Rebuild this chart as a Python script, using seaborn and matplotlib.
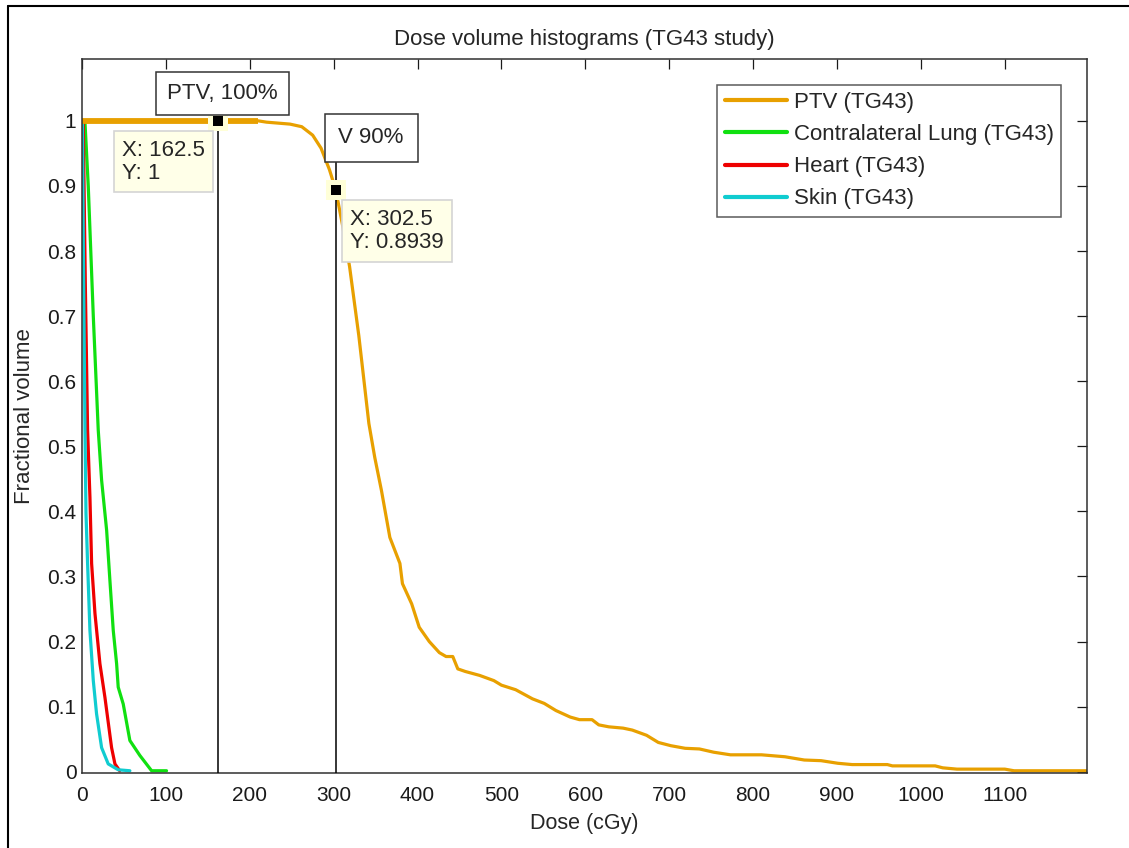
import numpy as np
import pandas as pd
import matplotlib
matplotlib.use('Agg')
import matplotlib.pyplot as plt
import seaborn as sns
from matplotlib.lines import Line2D

# ==========================================
# DATA
# ==========================================
ptv_dose = [0, 210, 220, 248, 262, 275, 285, 295, 302.5, 311, 319, 330, 342, 349,
            357, 367, 379, 382, 393, 402, 414, 426, 434, 442, 448, 457, 474, 491,
            500, 517, 537, 551, 565, 582, 593, 608, 616, 628, 645, 656, 673, 687,
            702, 719, 736, 753, 773, 810, 838, 861, 881, 901, 918, 960, 966, 1017,
            1026, 1043, 1100, 1111, 1198]
ptv_vol = [1, 1, 0.998, 0.995, 0.991, 0.978, 0.958, 0.925, 0.8939, 0.837, 0.776,
           0.67, 0.535, 0.483, 0.432, 0.36, 0.32, 0.289, 0.258, 0.222, 0.2, 0.183,
           0.177, 0.177, 0.158, 0.154, 0.148, 0.14, 0.133, 0.126, 0.112, 0.105,
           0.094, 0.084, 0.08, 0.08, 0.072, 0.069, 0.067, 0.064, 0.056, 0.045,
           0.04, 0.036, 0.035, 0.03, 0.026, 0.026, 0.023, 0.018, 0.017, 0.013,
           0.011, 0.011, 0.009, 0.009, 0.006, 0.004, 0.004, 0.0015, 0.0015]

lung_dose = [0, 3.5, 7.5, 13.5, 19.4, 23.4, 29.4, 33.3, 37.3, 41.3, 43.2, 49.2,
             57.1, 69, 83, 100.8]
lung_vol = [1, 1, 0.9, 0.7, 0.525, 0.448, 0.371, 0.294, 0.217, 0.166, 0.13, 0.104,
            0.048, 0.025, 0.0015, 0.0015]

heart_dose = [0, 1.5, 4, 6.7, 9.5, 11.5, 15.5, 21.4, 27.4, 35.3, 39.3, 45]
heart_vol = [1, 1, 0.75, 0.525, 0.422, 0.32, 0.243, 0.166, 0.114, 0.037, 0.012, 0.0015]

skin_dose = [0, 0.5, 2.0, 3.6, 4.8, 6.7, 9.5, 13.5, 17.4, 23.4, 31.3, 43.2, 57.1]
skin_vol = [1, 1, 0.75, 0.525, 0.397, 0.32, 0.217, 0.14, 0.089, 0.037, 0.012, 0.003, 0.0015]

structures = ['PTV (TG43)', 'Contralateral Lung (TG43)', 'Heart (TG43)', 'Skin (TG43)']
colors = ['#E8A000', '#10E010', '#EE0000', '#10CCD0']

# data tips shown on the PTV curve
tip_dose = [162.5, 302.5]
tip_vol = [1, 0.8939]
tip_labels = ['PTV, 100%', 'V 90%']

x_ticks = list(range(0, 1101, 100))
y_ticks = [0, 0.1, 0.2, 0.3, 0.4, 0.5, 0.6, 0.7, 0.8, 0.9, 1]
y_ticklabels = ['0', '0.1', '0.2', '0.3', '0.4', '0.5', '0.6', '0.7', '0.8', '0.9', '1']

# ==========================================
# SETUP
# ==========================================
sns.set_style('white')
plt.rcParams['font.family'] = ['Liberation Sans', 'DejaVu Sans']

df = pd.concat([
    pd.DataFrame({'dose': d, 'vol': v, 'structure': s})
    for d, v, s in zip([ptv_dose, lung_dose, heart_dose, skin_dose],
                       [ptv_vol, lung_vol, heart_vol, skin_vol], structures)
], ignore_index=True)

fig = plt.figure(figsize=(11.29, 8.48), dpi=100)
ax = fig.add_axes([0.0726, 0.0884, 0.8902, 0.842])

sns.lineplot(data=df, x='dose', y='vol', hue='structure', hue_order=structures,
             palette=dict(zip(structures, colors)), estimator=None, sort=False,
             linewidth=2.3, ax=ax)

# thick flat part of the PTV curve
ptv = df[(df['structure'] == structures[0]) & (df['dose'] <= 210)]
ax.plot(ptv['dose'], ptv['vol'], color=colors[0], lw=4.2, solid_capstyle='butt', zorder=2)

ax.set_xlim(0, 1198)
ax.set_ylim(-0.002, 1.095)
ax.set_xticks(x_ticks)
ax.set_yticks(y_ticks)
ax.set_yticklabels(y_ticklabels)
ax.tick_params(direction='in', length=7, width=0.9, top=True, right=True,
               labelsize=15, colors='#1a1a1a')
ax.tick_params(axis='x', pad=9)
ax.tick_params(axis='y', pad=4)
for sp in ax.spines.values():
    sp.set_visible(True)
    sp.set_color('#303030')
    sp.set_linewidth(1.1)

ax.set_title('Dose volume histograms (TG43 study)', fontsize=16, pad=10)
ax.set_xlabel('Dose (cGy)', fontsize=15.5, labelpad=6)
ax.set_ylabel('Fractional volume', fontsize=16, labelpad=9)

# ==========================================
# DATA TIPS
# ==========================================
line_gap = [0.008, 0.045]
label_off = [(3, 19.5), (25.5, 37.5)]
label_pad = [0.5, 0.62]
tip_off = [(-39.5, -29.5), (44, -29.5)]
for x, y, lab, g, lo, lp, to in zip(tip_dose, tip_vol, tip_labels, line_gap,
                                    label_off, label_pad, tip_off):
    ax.vlines(x, -0.002, y + g, color='black', lw=1.1, zorder=3)
    ax.scatter([x], [y], marker='s', s=190, color='#FFFFD8', zorder=4, linewidths=0)
    ax.scatter([x], [y], marker='s', s=55, color='black', zorder=5, linewidths=0)
    ax.annotate(lab, xy=(x, y), xytext=lo, textcoords='offset points',
                ha='center', va='center', fontsize=16, zorder=6,
                bbox=dict(boxstyle=f'square,pad={lp}', fc='white', ec='#333333', lw=1.1))
    yl = f'{y:g}'
    ax.annotate(f'X: {x:g}\nY: {yl}', xy=(x, y), xytext=to, textcoords='offset points',
                ha='center', va='center', multialignment='left', fontsize=16,
                linespacing=1.15, zorder=6,
                bbox=dict(boxstyle='square,pad=0.38', fc='#FFFFE8', ec='#D4D4D4', lw=1.2))

# ==========================================
# LEGEND
# ==========================================
handles = [Line2D([0], [0], color=c, lw=3) for c in colors]
leg = ax.legend(handles, structures, loc='upper right', bbox_to_anchor=(0.974, 0.964),
                fontsize=16, frameon=True, fancybox=False, handlelength=2.8,
                handletextpad=0.3, labelspacing=0.5, borderpad=0.33, borderaxespad=0)
leg.get_frame().set_edgecolor('#333333')
leg.get_frame().set_linewidth(1.1)

# outer frame of the screenshot
fig.add_artist(Line2D([0.0071, 0.0071], [0, 0.993], color='black', lw=1.5))
fig.add_artist(Line2D([0.0071, 1], [0.993, 0.993], color='black', lw=1.5))

fig.savefig('out.png', dpi=100)
